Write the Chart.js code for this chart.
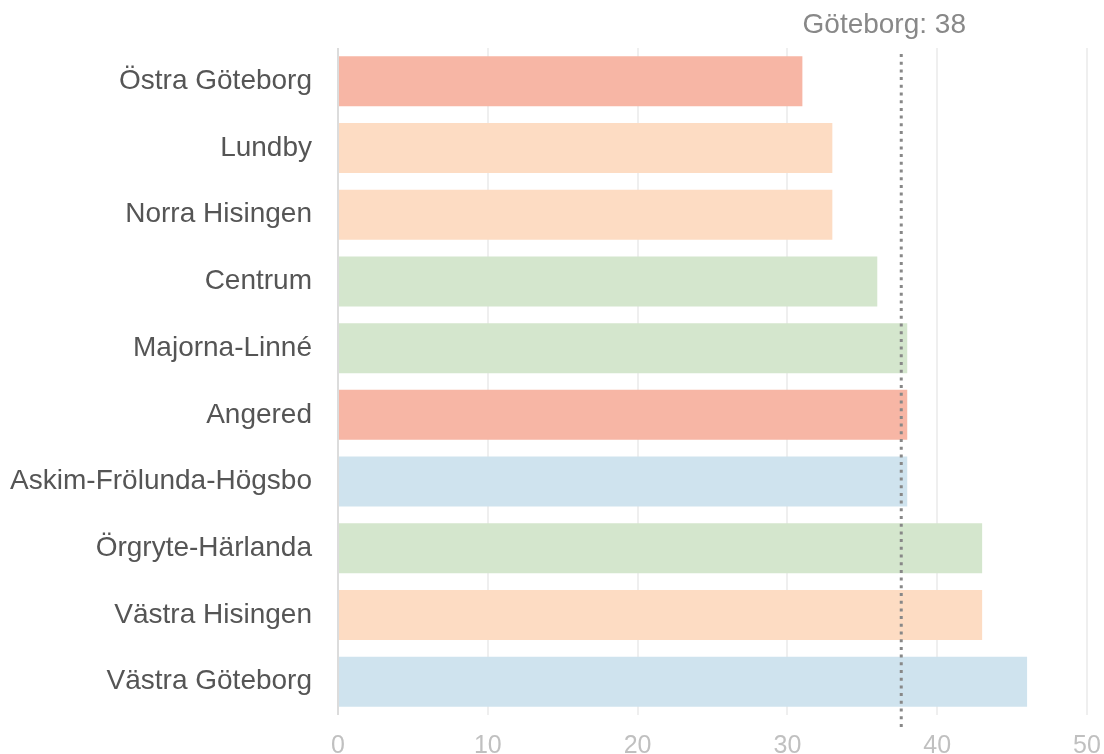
<!DOCTYPE html>
<html>
<head>
<meta charset="utf-8">
<script src="https://cdn.jsdelivr.net/npm/chart.js@4"></script>
<style>
  html, body { margin: 0; padding: 0; background: #fff; }
  #wrap { width: 1104px; height: 754px; position: relative; }
</style>
</head>
<body>
<div id="wrap"><canvas id="chart"></canvas></div>
<script>
// stadsdelar, sorterade från lägst till högst
var districts = ['Östra Göteborg', 'Lundby', 'Norra Hisingen', 'Centrum', 'Majorna-Linné',
  'Angered', 'Askim-Frölunda-Högsbo', 'Örgryte-Härlanda', 'Västra Hisingen', 'Västra Göteborg'];
var values = [31, 33, 33, 36, 38, 38, 38, 43, 43, 46];
var barColors = ['#f7b6a5', '#fddcc3', '#fddcc3', '#d4e6cd', '#d4e6cd',
  '#f7b6a5', '#cfe3ee', '#d4e6cd', '#fddcc3', '#cfe3ee'];
var cityName = 'Göteborg';
var cityValue = 37.6;
var xTicks = [0, 10, 20, 30, 40, 50];

var FONT = '"Liberation Sans", Arial, sans-serif';

// streckad linje för hela staden + etikett ovanför
var cityLine = {
  id: 'cityLine',
  afterDatasetsDraw: function (chart) {
    var c = chart.ctx, a = chart.chartArea;
    var x = chart.scales.x.getPixelForValue(cityValue);
    c.save();
    c.strokeStyle = '#888';
    c.lineWidth = 3;
    c.setLineDash([3, 4.7]);
    c.beginPath();
    c.moveTo(x, a.top + 6);
    c.lineTo(x, a.bottom + 15);
    c.stroke();
    c.setLineDash([]);
    c.fillStyle = '#888';
    c.font = '28px ' + FONT;
    c.textAlign = 'center';
    c.textBaseline = 'middle';
    c.fillText(cityName + ': ' + Math.round(cityValue), x - 17, 25);
    c.restore();
  }
};

new Chart(document.getElementById('chart'), {
  type: 'bar',
  data: {
    labels: districts,
    datasets: [{ data: values, backgroundColor: barColors, barPercentage: 0.75, categoryPercentage: 1 }]
  },
  options: {
    indexAxis: 'y',
    responsive: true,
    maintainAspectRatio: false,
    animation: false,
    layout: { padding: { top: 48, right: 17, left: 0, bottom: 0 } },
    plugins: { legend: { display: false }, tooltip: { enabled: false } },
    scales: {
      x: {
        min: 0, max: 50,
        afterBuildTicks: function (s) { s.ticks = xTicks.map(function (v) { return { value: v }; }); },
        afterFit: function (s) { s.height = 39; s.paddingLeft = 0; s.paddingRight = 0; },
        border: { display: false },
        grid: { color: function (ctx) { return ctx.tick && ctx.tick.value === 0 ? '#dcdcdc' : '#efefef'; }, lineWidth: 2, drawTicks: false },
        ticks: { color: '#c0c0c0', padding: 16, font: { family: FONT, size: 25 } }
      },
      y: {
        afterFit: function (s) { s.width = 338; s.paddingTop = 0; s.paddingBottom = 0; },
        border: { display: false },
        grid: { display: false, drawTicks: false },
        ticks: { color: '#555', padding: 26, font: { family: FONT, size: 28 } }
      }
    }
  },
  plugins: [cityLine]
});
</script>
</body>
</html>
